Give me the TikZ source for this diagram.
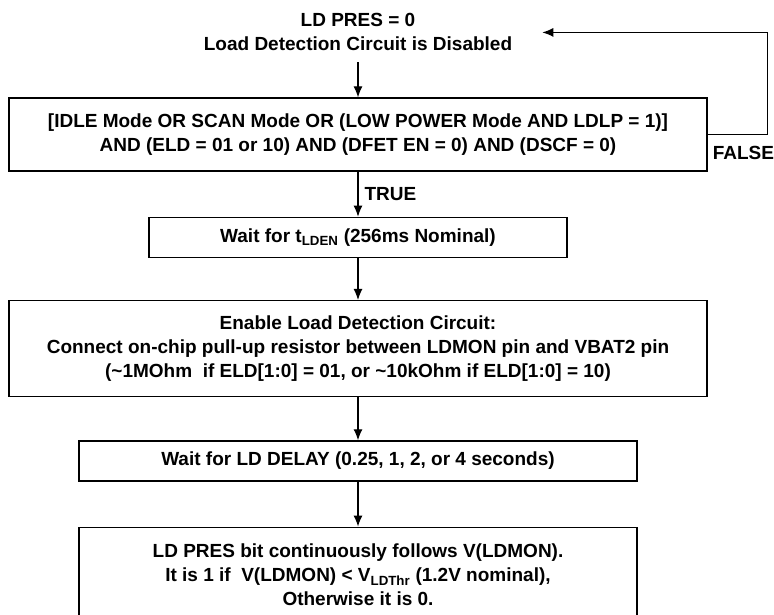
\documentclass[tikz,border=0pt]{standalone}
\usepackage{fontspec}
\setmainfont{Liberation Sans}
\usetikzlibrary{positioning,arrows.meta}

\begin{document}
\begin{tikzpicture}[
    x=1pt, y=-1pt,
    every node/.style={font=\fontsize{19}{24}\selectfont\bfseries},
    box/.style ={draw, line width=1.3pt, inner sep=0pt, align=center},
    wide/.style={box, minimum width=698pt},
    mid/.style ={box, minimum width=558pt},
    lbl/.style ={inner sep=0pt, align=center},
    arr/.style ={-{Latex[length=11pt,width=9pt]}, line width=1.1pt}
  ]
  \useasboundingbox (0,0) rectangle (774,615);
  \node[wide, minimum height=73pt] (cond) at (358,134.5)
       {[IDLE Mode OR SCAN Mode OR (LOW POWER Mode AND LDLP = 1)]\\
        AND (ELD = 01 or 10) AND (DFET EN = 0) AND (DSCF = 0)};
  \node[lbl, above=46pt of cond]                          (ldp)
       {LD PRES = 0\\Load Detection Circuit is Disabled};
  \node[box, minimum width=418pt, minimum height=40pt,
        below=45pt of cond]                               (tlden)
       {Wait for t\textsubscript{LDEN} (256ms Nominal)};
  \node[wide, minimum height=96pt, below=42pt of tlden]   (enable)
       {Enable Load Detection Circuit:\\
        Connect on-chip pull-up resistor between LDMON pin and VBAT2 pin\\
        (\textasciitilde 1MOhm\ \ if ELD[1:0] = 01, or \textasciitilde 10kOhm if ELD[1:0] = 10)};
  \node[mid, minimum height=40pt, below=43pt of enable]   (delay)
       {Wait for LD DELAY (0.25, 1, 2, or 4 seconds)};
  \node[mid, minimum height=96pt, below=45pt of delay]    (follow)
       {LD PRES bit continuously follows V(LDMON).\\
        It is 1 if\ \ V(LDMON) < V\textsubscript{LDThr} (1.2V nominal),\\
        Otherwise it is 0.};
  \node[lbl, below right=12pt and 5pt of cond.east]       (falselbl) {FALSE};
  \draw[arr, shorten <=11pt] (ldp) -- (cond);
  \draw[arr] (cond)   -- node[lbl, right=6pt] (truelbl) {TRUE} (tlden);
  \draw[arr] (tlden)  -- (enable);
  \draw[arr] (enable) -- (delay);
  \draw[arr] (delay)  -- (follow);
  \draw[arr, shorten >=30pt] (cond.east) -- ++(60,0) |- (ldp.east);
\end{tikzpicture}
\end{document}
